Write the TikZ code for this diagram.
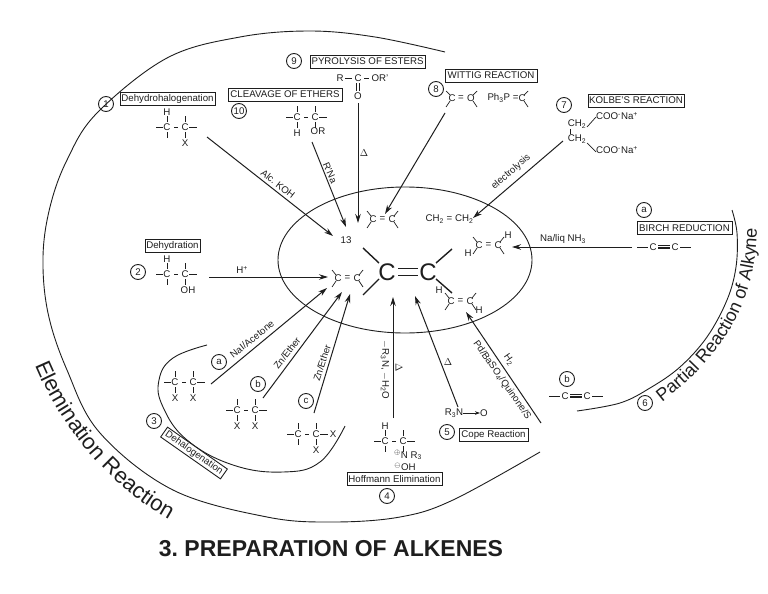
\documentclass[tikz,border=0pt]{standalone}
\usepackage{fontspec}
\setmainfont{Liberation Sans}
\usetikzlibrary{arrows.meta,decorations.text,calc}
\definecolor{ink}{HTML}{1E1E1E}
\newcommand\ftxt{\fontsize{9.7}{10.5}\selectfont}
\newcommand\fbig{\fontsize{24}{26}\selectfont}
\newcommand\felem{\fontsize{22}{24}\selectfont}
\newcommand\fpart{\fontsize{18}{20}\selectfont}
\newcommand\sub[1]{\textsubscript{#1}}
\newcommand\sups[1]{\textsuperscript{#1}}
\frenchspacing
\tikzset{
  x=1pt,y=-1pt,
  every node/.style={font=\ftxt,text=ink,inner sep=0pt},
  bond/.style={draw=ink,line width=.7pt},
  wire/.style={draw=ink,line width=.9pt},
  rarrow/.style={draw=ink,line width=1pt,-{Stealth[length=9pt,width=5.5pt]}},
  titlebox/.style={draw=ink,line width=.9pt,inner sep=0pt,fill=white},
  num/.style={draw=ink,circle,line width=.9pt,minimum size=15pt,inner sep=0pt},
}
% name x y topL botL topR botR : -C-C- chain
\newcommand\chainCC[7]{%
  \begin{scope}[shift={(#2,#3)}]
    \node (#1a) at (0,0) {C};
    \node (#1b) at (18,0) {C};
    \draw[bond] (-11,0) -- (-4,0) (7,0) -- (11,0) (22,0) -- (30,0);
    \draw[bond] (0,-5) -- (0,-11) (0,5) -- (0,11) (18,-5) -- (18,-11) (18,5) -- (18,11);
    \if\relax\detokenize{#4}\relax\else\node (#1tl) at (0,-15) {#4};\fi
    \if\relax\detokenize{#5}\relax\else\node (#1bl) at (0,16) {#5};\fi
    \if\relax\detokenize{#6}\relax\else\node (#1tr) at (18,-15) {#6};\fi
    \if\relax\detokenize{#7}\relax\else\node (#1br) at (18,16) {#7};\fi
  \end{scope}}
% name x y : C=C with four stubs
\newcommand\alkene[3]{%
  \begin{scope}[shift={(#2,#3)}]
    \node (#1a) at (0,0) {C};
    \node (#1e) at (9.5,0) {=};
    \node (#1b) at (19,0) {C};
    \draw[bond] (-2,-3) -- (-6,-8) (-2,3) -- (-6,9) (21,-3) -- (25,-8) (21,3) -- (25,9);
  \end{scope}}
% name x y : -C#C-
\newcommand\alkyne[3]{%
  \begin{scope}[shift={(#2,#3)}]
    \node (#1a) at (0,0) {C};
    \node (#1b) at (22,0) {C};
    \draw[bond] (-16,0) -- (-5,0) (27,0) -- (38,0);
    \draw[bond] (5,-1.3) -- (17,-1.3) (5,0) -- (17,0) (5,1.3) -- (17,1.3);
  \end{scope}}
\begin{document}
\begin{tikzpicture}
\useasboundingbox (0,0) rectangle (768,594);
% curves
\draw[wire] plot[smooth,tension=.6] coordinates {(445,52) (375,37) (310,31) (240,37) (167,58) (97,113) (67,160) (50,207) (43,257) (48,313) (67,370) (100,433) (173,490) (267,517) (333,522) (400,517) (453,500) (540,452)};
\draw[wire] plot[smooth,tension=.6] coordinates {(732,210) (737,233) (736,267) (727,300) (707,337) (680,367) (650,388) (620,403) (577,411)};
\draw[wire] plot[smooth,tension=.7] coordinates {(207,345) (173,358) (159,380) (163,407) (187,440) (233,465) (283,472) (320,462) (345,426)};
\draw[wire] (405,260) ellipse [x radius=127,y radius=73];
% curved titles
\path[decorate,decoration={text along path,text align={left},text={|\felem\color{ink}|Elemination Reaction}}]
  (35,365) .. controls (60,425) and (110,490) .. (178,524);
\path[decorate,decoration={text along path,text align={left},text={|\fpart\color{ink}|Partial Reaction of Alkyne}}]
  (662,402) .. controls (710,365) and (757,315) .. (757,225);
\node[font=\fontsize{23}{25}\selectfont\bfseries] (title) at (331,549) {3. PREPARATION OF ALKENES};
% boxes & numbers
\node[titlebox,minimum width=95pt,minimum height=12.5pt] (dhh) at (167.5,99) {Dehydrohalogenation};
\node[num] (n1) at (106,104) {1};
\node[titlebox,minimum width=114pt,minimum height=13pt] (clv) at (285,94.5) {CLEAVAGE OF ETHERS};
\node[num] (n10) at (239,111) {10};
\node[titlebox,minimum width=115pt,minimum height=13pt] (pyr) at (367.5,61.5) {PYROLYSIS OF ESTERS};
\node[num] (n9) at (294,61) {9};
\node[titlebox,minimum width=92pt,minimum height=13pt] (wit) at (491,75.5) {WITTIG REACTION};
\node[num] (n8) at (436,89) {8};
\node[titlebox,minimum width=96pt,minimum height=13pt] (kol) at (636,100.5) {KOLBE'S REACTION};
\node[num] (n7) at (564,105) {7};
\node[titlebox,minimum width=95pt,minimum height=12.5pt] (bir) at (684.5,228) {BIRCH REDUCTION};
\node[num] (na1) at (644,210) {a};
\node[titlebox,minimum width=55pt,minimum height=13pt] (dhy) at (172.5,245.5) {Dehydration};
\node[num] (n2) at (138,272) {2};
\node[titlebox,minimum width=73pt,minimum height=12pt,rotate=-35] (dhl) at (194,453) {Dehalogenation};
\node[num] (n3) at (154,421) {3};
\node[titlebox,minimum width=95pt,minimum height=12.5pt] (hof) at (394.5,479) {Hoffmann Elimination};
\node[num] (n4) at (387,496) {4};
\node[titlebox,minimum width=69pt,minimum height=13pt] (cop) at (493.5,434.5) {Cope Reaction};
\node[num] (n5) at (447,432) {5};
\node[num] (n6) at (645,403) {6};
\node[num] (nb2) at (567,379) {b};
\node[num] (na) at (219,362) {a};
\node[num] (nb) at (258,384) {b};
\node[num] (nc) at (306,401) {c};
% structures
\chainCC{s1}{167}{127}{H}{}{}{X}
\chainCC{s10}{297}{117}{}{H}{}{}
\node (s10or) at (318,131) {OR};
\chainCC{s2}{167}{274}{H}{}{}{}
\node (s2oh) at (188,290) {OH};
\chainCC{sa}{175}{382}{}{X}{}{X}
\chainCC{sb}{237}{410}{}{X}{}{X}
\chainCC{sc}{298}{434}{}{}{}{X}
\node (scx) at (333,434) {X};
\chainCC{s4}{385}{441}{H}{}{}{}
\node (s4n) at (408,455) {\sups{$\oplus$}N R\sub{3}};
\node (s4o) at (405,467) {\sups{$\ominus$}OH};
% pyrolysis
\node (s9r) at (340,78) {R};
\node (s9c) at (358,78) {C};
\node (s9or) at (380,78) {OR'};
\node (s9o) at (358,96) {O};
\draw[bond] (345,78) -- (352,78) (364,78) -- (369,78) (356.8,83) -- (356.8,91) (359.2,83) -- (359.2,91);
% wittig
\node (s8c) at (452,98) {C};
\node (s8e) at (461,98) {=};
\node (s8o) at (471,98) {O};
\draw[bond] (450,95) -- (446,91) (450,101) -- (446,107) (473,95) -- (477,91) (473,101) -- (477,107);
\node (s8p) at (503,98) {Ph\sub{3}P =};
\node (s8d) at (522,98) {C};
\draw[bond] (524,95) -- (528,91) (524,101) -- (528,107);
% kolbe
\node (s7a) at (577,124) {CH\sub{2}};
\node (s7b) at (577,139) {CH\sub{2}};
\node (s7c) at (617,116) {COO\sups{-}Na\sups{+}};
\node (s7d) at (617,150) {COO\sups{-}Na\sups{+}};
\draw[bond] (570.5,129) -- (570.5,134) (587,127) -- (596,117) (587,143) -- (596,152);
% central alkenes
\node (big1) at (387,272) {\fbig C};
\node (big2) at (428,272) {\fbig C};
\draw[line width=1.4pt,draw=ink] (398,268.5) -- (418,268.5) (398,275.5) -- (418,275.5);
\draw[line width=1.4pt,draw=ink] (363,248) -- (379,263) (363,295) -- (379,279) (452,249) -- (436,263) (436,279) -- (452,293);
\node (lab13) at (346,240) {13};
\alkene{top}{373}{219}
\alkene{mid}{338}{278}
\node (ethene) at (449.5,219) {CH\sub{2} = CH\sub{2}};
\alkene{trn}{479}{245}
\node (trnh1) at (468,253) {H};
\node (trnh2) at (508,235) {H};
\alkene{cis}{451}{301}
\node (cish1) at (439,290) {H};
\node (cish2) at (479,310) {H};
% alkynes
\alkyne{aky1}{653}{247}
\alkyne{aky2}{565}{396}
% cope oxide
\node (cn) at (454,413) {R\sub{3}N};
\node (co) at (484,413) {O};
\draw[bond,-{Stealth[length=5pt,width=3.5pt]}] (cn) -- (co);
% arrow coordinates
\coordinate (a1s) at (207,137); \coordinate (a1e) at (333,236);
\coordinate (a10s) at (312,142); \coordinate (a10e) at (346,227);
\coordinate (a9s) at (358,103); \coordinate (a9e) at (358,223);
\coordinate (a8s) at (445,113); \coordinate (a8e) at (385,214);
\coordinate (a7s) at (563,141); \coordinate (a7e) at (473,218);
\coordinate (a6as) at (632,247); \coordinate (a6ae) at (512,247);
\coordinate (a2s) at (209,277); \coordinate (a2e) at (328,277);
\coordinate (a3as) at (211,384); \coordinate (a3ae) at (327,288);
\coordinate (a3bs) at (263,398); \coordinate (a3be) at (342,292);
\coordinate (a3cs) at (314,413); \coordinate (a3ce) at (350,294);
\coordinate (a4s) at (393,418); \coordinate (a4e) at (393,297);
\coordinate (a5s) at (458,407); \coordinate (a5e) at (415,296);
\coordinate (a6bs) at (541,423); \coordinate (a6be) at (466,312);
\foreach \u/\v in {a1s/a1e,a10s/a10e,a9s/a9e,a8s/a8e,a7s/a7e,a6as/a6ae,a2s/a2e,a3as/a3ae,a3bs/a3be,a3cs/a3ce,a4s/a4e,a5s/a5e,a6bs/a6be}
  \draw[rarrow] (\u) -- (\v);
% arrow labels
\node[rotate=-38] (l1) at (278,184) {Alc. KOH};
\node[rotate=-66] (l10) at (330,173) {R'Na};
\node (l9) at (364,153) {$\Delta$};
\node[rotate=41] (l7) at (511,172) {electrolysis};
\node (l6a) at (563,239) {Na/liq NH\sub{3}};
\node (l2) at (242,270) {H\sups{+}};
\node[rotate=39] (l3a) at (252,339) {NaI/Acetone};
\node[rotate=52] (l3b) at (287,353) {Zn/Ether};
\node[rotate=72] (l3c) at (322,363) {Zn/Ether};
\node[rotate=-90] (l4) at (385,370) {$-$R\sub{3}N, $-$H\sub{2}O};
\node[rotate=-90] (l4d) at (399,368) {$\Delta$};
\node (l5) at (448,362) {$\Delta$};
\node[rotate=-55] (l6h) at (509,360) {H\sub{2}};
\node[rotate=-55] (l6p) at (502,380) {Pd/BaSO\sub{4}/Quinone/S};
\end{tikzpicture}
\end{document}
